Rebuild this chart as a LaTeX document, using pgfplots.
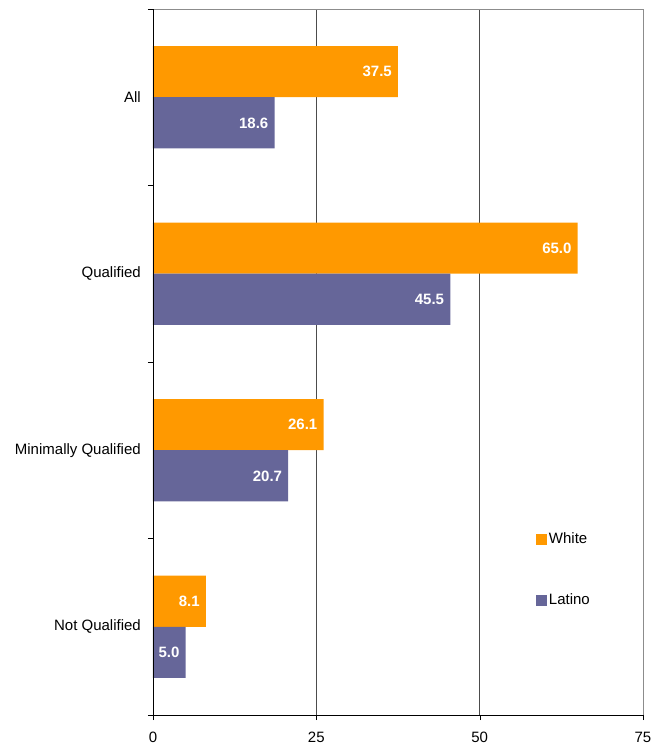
\documentclass[border=0pt]{standalone}
\usepackage{pgfplots}
\pgfplotsset{compat=1.18}
\usepackage{fontspec}
\setmainfont{Liberation Sans}
\definecolor{cwhite}{HTML}{FF9900}
\definecolor{clatino}{HTML}{666699}
\begin{document}
\fontsize{15}{18}\selectfont
\begin{tikzpicture}
\begin{axis}[
  scale only axis,
  width=490pt, height=706pt,
  xbar,
  xmin=0, xmax=75,
  ymin=-0.5, ymax=3.5,
  xtick={0,25,50,75},
  ytick={0,1,2,3},
  yticklabels={Not Qualified, Minimally Qualified, Qualified, All},
  minor ytick={-0.5,0.5,1.5,2.5,3.5},
  major tick length=0pt,
  minor tick length=5pt,
  xtick pos=bottom, ytick pos=left,
  tick align=outside,
  extra x ticks={0,25,50,75},
  extra x tick labels={},
  extra x tick style={major tick length=5pt, tick style={black}, grid=none},
  xmajorgrids,
  major grid style={draw=black!70, line width=0.8pt},
  minor tick style={black},
  axis line style={draw=black!45, line width=0.8pt},
  /pgf/number format/assume math mode=true,
  tick label style={font=\fontsize{15}{18}\selectfont},
  xticklabel style={yshift=-12pt},
  yticklabel style={xshift=-7pt},
  bar width=0.29,
  nodes near coords={\pgfmathprintnumber[fixed,fixed zerofill,precision=1,assume math mode=true]{\pgfplotspointmeta}},
  nodes near coords style={anchor=east, text=white, font=\fontsize{15}{18}\selectfont\bfseries, xshift=-1pt},
  legend style={draw=none, fill=none, at={(rel axis cs:0.775,0.264)}, anchor=north west, row sep=44pt, font=\fontsize{15}{18}\selectfont},
  legend cell align=left,
  legend image code/.code={\fill (0pt,-5.5pt) rectangle (11pt,5.5pt);},
]
\addplot[fill=cwhite, draw=none, bar shift=0.145] coordinates {(8.1,0) (26.1,1) (65.0,2) (37.5,3)};
\addlegendentry{White}
\addplot[fill=clatino, draw=none, bar shift=-0.145] coordinates {(5.0,0) (20.7,1) (45.5,2) (18.6,3)};
\addlegendentry{Latino}
\draw[black, line width=0.8pt] (rel axis cs:0,0) -- (rel axis cs:0,1);
\draw[black, line width=0.8pt] (rel axis cs:0,0) -- (rel axis cs:1,0);
\coordinate (tl) at (rel axis cs:0,1);
\coordinate (br) at (rel axis cs:1,0);
\end{axis}
\path ([xshift=-153pt,yshift=9pt]tl) rectangle ([xshift=8pt,yshift=-33pt]br);
\end{tikzpicture}
\end{document}
